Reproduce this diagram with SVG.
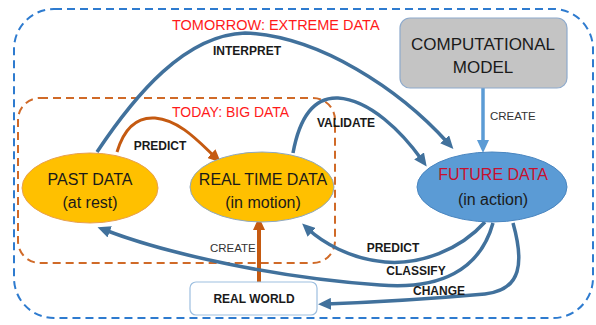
<svg xmlns="http://www.w3.org/2000/svg" width="596" height="325" viewBox="0 0 596 325">
<style>
text{font-family:"Liberation Sans",Arial,sans-serif;fill:#1a1a1a}
.zone{fill:none;stroke-width:2;stroke-dasharray:8 5}
.title{font-size:14.5px;fill:#ff1a1a}
.lbl{font-size:12px;font-weight:bold;text-anchor:middle}
.cr{font-size:11.5px;fill:#333}
.nt{font-size:16px;text-anchor:middle}
.blue{fill:none;stroke:#41719c;stroke-width:3.5}
.or{fill:none;stroke:#c55a11;stroke-width:3}
</style>
<defs>
<marker id="ab" markerUnits="userSpaceOnUse" markerWidth="14" markerHeight="12" refX="5" refY="6" orient="auto"><path d="M0,0 L13,6 L0,12 z" fill="#41719c"/></marker>
<marker id="ao" markerUnits="userSpaceOnUse" markerWidth="14" markerHeight="12" refX="5" refY="6" orient="auto"><path d="M0,0 L13,6 L0,12 z" fill="#c55a11"/></marker>
<marker id="al" markerUnits="userSpaceOnUse" markerWidth="14" markerHeight="12" refX="5" refY="6" orient="auto"><path d="M0,0 L13,6 L0,12 z" fill="#5b9bd5"/></marker>
</defs>
<g id="zones">
<rect class="zone" x="14" y="9" width="579" height="309" rx="40" stroke="#2e7bcf"/>
<rect class="zone" x="18" y="98" width="317" height="165" rx="22" stroke="#d06a28"/>
<text class="title" x="172" y="30">TOMORROW: EXTREME DATA</text>
<text class="title" x="172" y="117" style="font-size:14px">TODAY: BIG DATA</text>
</g>
<g id="connectors">
<path class="blue" d="M97 152 C135 95,185 35,245 33 C320 36,400 90,448 143" marker-end="url(#ab)"/>
<text class="lbl" x="247" y="55">INTERPRET</text>
<path class="blue" d="M293 153 C300 115,315 97,338 98 C370 100,402 132,422 160" marker-end="url(#ab)"/>
<text class="lbl" x="346" y="127">VALIDATE</text>
<path class="or" d="M117 152 C125 125,140 117,155 118 C180 120,200 143,215 157" marker-end="url(#ao)"/>
<text class="lbl" x="160" y="150">PREDICT</text>
<path d="M483 88 L483 145" fill="none" stroke="#5b9bd5" stroke-width="3.5" marker-end="url(#al)"/>
<text class="cr" x="490" y="120">CREATE</text>
<path d="M259 282 L259 225" fill="none" stroke="#c55a11" stroke-width="4" marker-end="url(#ao)"/>
<text class="cr" x="210" y="252">CREATE</text>
<path class="blue" d="M485 222 C460 250,420 265,385 262 C350 259,322 242,308 229" marker-end="url(#ab)"/>
<text class="lbl" x="393" y="252">PREDICT</text>
<path class="blue" d="M493 223 C480 270,440 290,380 285 C280 278,170 255,105 230" marker-end="url(#ab)"/>
<text class="lbl" x="416" y="275">CLASSIFY</text>
<path class="blue" d="M513 223 C524 262,522 290,485 294 C440 298,380 302,326 304" marker-end="url(#ab)"/>
<text class="lbl" x="439" y="295">CHANGE</text>
</g>
<g id="computational-model">
<rect x="400" y="18" width="167" height="70" rx="10" fill="#c4c4c4" stroke="#8eaacc" stroke-width="1.2"/>
<text class="nt" x="483" y="50" style="font-size:17px">COMPUTATIONAL</text>
<text class="nt" x="483" y="73" style="font-size:17px">MODEL</text>
</g>
<g id="past-data">
<ellipse cx="90" cy="188" rx="68" ry="35" fill="#ffc000" stroke="#e8a050" stroke-width="1"/>
<text class="nt" x="90" y="185">PAST DATA</text>
<text class="nt" x="90" y="208">(at rest)</text>
</g>
<g id="real-time-data">
<ellipse cx="262" cy="187" rx="72" ry="35" fill="#ffc000" stroke="#8fa8c0" stroke-width="1"/>
<text class="nt" x="263" y="185">REAL TIME DATA</text>
<text class="nt" x="263" y="208">(in motion)</text>
</g>
<g id="future-data">
<ellipse cx="492" cy="187" rx="75" ry="35" fill="#5b9bd5" stroke="#4a86c0" stroke-width="1"/>
<text class="nt" x="493" y="180" style="fill:#c8102e">FUTURE DATA</text>
<text class="nt" x="493" y="205">(in action)</text>
</g>
<g id="real-world">
<rect x="190" y="282" width="127" height="33" rx="6" fill="#fff" stroke="#9dbfe0" stroke-width="1.2"/>
<text class="lbl" x="254" y="303">REAL WORLD</text>
</g>
</svg>
